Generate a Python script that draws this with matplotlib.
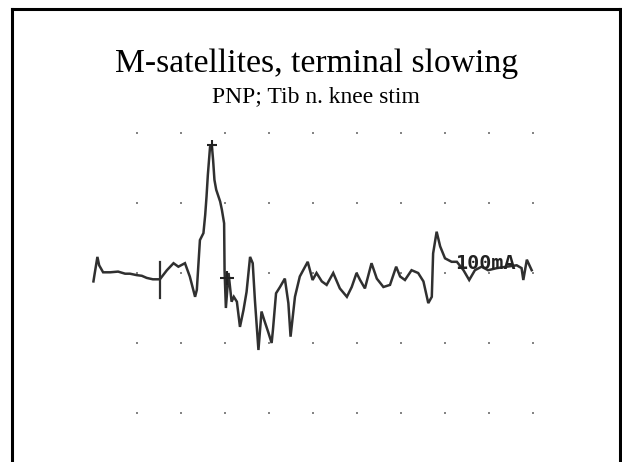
import numpy as np
import matplotlib
matplotlib.use('Agg')
import matplotlib.pyplot as plt
from matplotlib.lines import Line2D

# trace, in grid divisions (x: time div, y: amplitude div)
t_div = [-0.99, -0.97, -0.90, -0.86, -0.77, -0.61, -0.43, -0.27, -0.16, -0.01,
         0.11, 0.22, 0.36, 0.52, 0.68, 0.83, 0.94, 1.09, 1.20, 1.32,
         1.36, 1.43, 1.51, 1.55, 1.58, 1.61, 1.66, 1.70, 1.73, 1.76,
         1.80, 1.89, 1.93, 1.98, 1.99, 2.02, 2.08, 2.15, 2.20, 2.27,
         2.34, 2.42, 2.49, 2.57, 2.63, 2.68, 2.76, 2.83, 2.89, 2.98,
         3.06, 3.09, 3.16, 3.25, 3.36, 3.44, 3.49, 3.59, 3.70, 3.88,
         3.99, 4.08, 4.20, 4.31, 4.46, 4.61, 4.77, 4.88, 4.99, 5.07,
         5.18, 5.33, 5.45, 5.60, 5.75, 5.89, 5.98, 6.09, 6.24, 6.39,
         6.51, 6.62, 6.70, 6.73, 6.81, 6.89, 7.00, 7.15, 7.27, 7.42,
         7.55, 7.68, 7.83, 7.98, 8.18, 8.40, 8.63, 8.74, 8.78, 8.86,
         8.97]
amp_div = [-0.12, -0.04, 0.23, 0.11, 0.01, 0.01, 0.02, -0.01, -0.01, -0.03,
           -0.04, -0.07, -0.09, -0.09, 0.04, 0.14, 0.09, 0.14, -0.05, -0.34,
           -0.24, 0.47, 0.57, 0.83, 1.09, 1.40, 1.80, 1.83, 1.61, 1.33,
           1.19, 1.02, 0.90, 0.71, 0.04, -0.50, 0.00, -0.41, -0.34, -0.41,
           -0.77, -0.53, -0.27, 0.23, 0.14, -0.39, -1.10, -0.55, -0.67, -0.84,
           -1.00, -0.81, -0.29, -0.20, -0.08, -0.43, -0.91, -0.34, -0.05, 0.16,
           -0.10, 0.00, -0.12, -0.17, 0.00, -0.22, -0.34, -0.20, 0.00, -0.10,
           -0.22, 0.14, -0.08, -0.20, -0.17, 0.09, -0.05, -0.10, 0.04, 0.00,
           -0.12, -0.43, -0.34, 0.28, 0.59, 0.38, 0.21, 0.16, 0.16, 0.04,
           -0.10, 0.04, 0.09, 0.04, 0.07, 0.09, 0.11, 0.07, -0.10, 0.19,
           0.04]

grid_cols = list(range(10))
grid_rows = [-2, -1, 0, 1, 2]

stim_cursor_t = 0.52
stim_cursor_span = [-0.36, 0.16]
peak_cursor = (1.70, 1.83)
onset_cursor = (2.05, -0.07)
sens_label = '100mA'
sens_pos = (7.22, 0.14)

title = 'M-satellites, terminal slowing'
subtitle = 'PNP; Tib n. knee stim'

W, H = 622, 462
fig = plt.figure(figsize=(W / 100, H / 100), dpi=100)
fig.patch.set_facecolor('white')

# slide frame (open at the bottom)
lw_frame = 2.2
fig.add_artist(Line2D([12 / W, 12 / W], [0, 1 - 9 / H], color='black', lw=lw_frame))
fig.add_artist(Line2D([12 / W, 620 / W], [1 - 9 / H, 1 - 9 / H], color='black', lw=lw_frame))
fig.add_artist(Line2D([620 / W, 620 / W], [1 - 9 / H, 0], color='black', lw=lw_frame))

fig.text(316.5 / W, 1 - 71.7 / H, title, ha='center', va='baseline',
         family='Liberation Serif', fontsize=24.2)
fig.text(316 / W, 1 - 101.7 / H, subtitle, ha='center', va='baseline',
         family='Liberation Serif', fontsize=17)

# axes laid out so one division = 44 px across, 70 px down
left, right, top, bottom = 80, 560, 120, 430
ax = fig.add_axes([left / W, 1 - bottom / H, (right - left) / W, (bottom - top) / H])
ax.set_xlim((left - 137) / 44, (right - 137) / 44)
ax.set_ylim((273 - bottom) / 70, (273 - top) / 70)
ax.axis('off')

gx, gy = np.meshgrid(grid_cols, grid_rows)
ax.plot(gx.ravel(), gy.ravel(), 's', color='#858585', markersize=1.9, mew=0, zorder=1)

ax.plot(t_div, amp_div, color='#303030', lw=1.8, zorder=3, solid_joinstyle='miter')

ax.plot([stim_cursor_t, stim_cursor_t], stim_cursor_span, color='#303030', lw=1.6, zorder=3)
ax.plot(*peak_cursor, '+', color='#222222', markersize=7, mew=1.5, zorder=4)
ax.plot(*onset_cursor, '+', color='#222222', markersize=10, mew=1.5, zorder=4)

ax.text(sens_pos[0], sens_pos[1], sens_label, ha='left', va='center',
        family='DejaVu Sans Mono', fontweight='bold', fontsize=14.5, color='#222222', zorder=5)

fig.savefig('out.png', dpi=100)
